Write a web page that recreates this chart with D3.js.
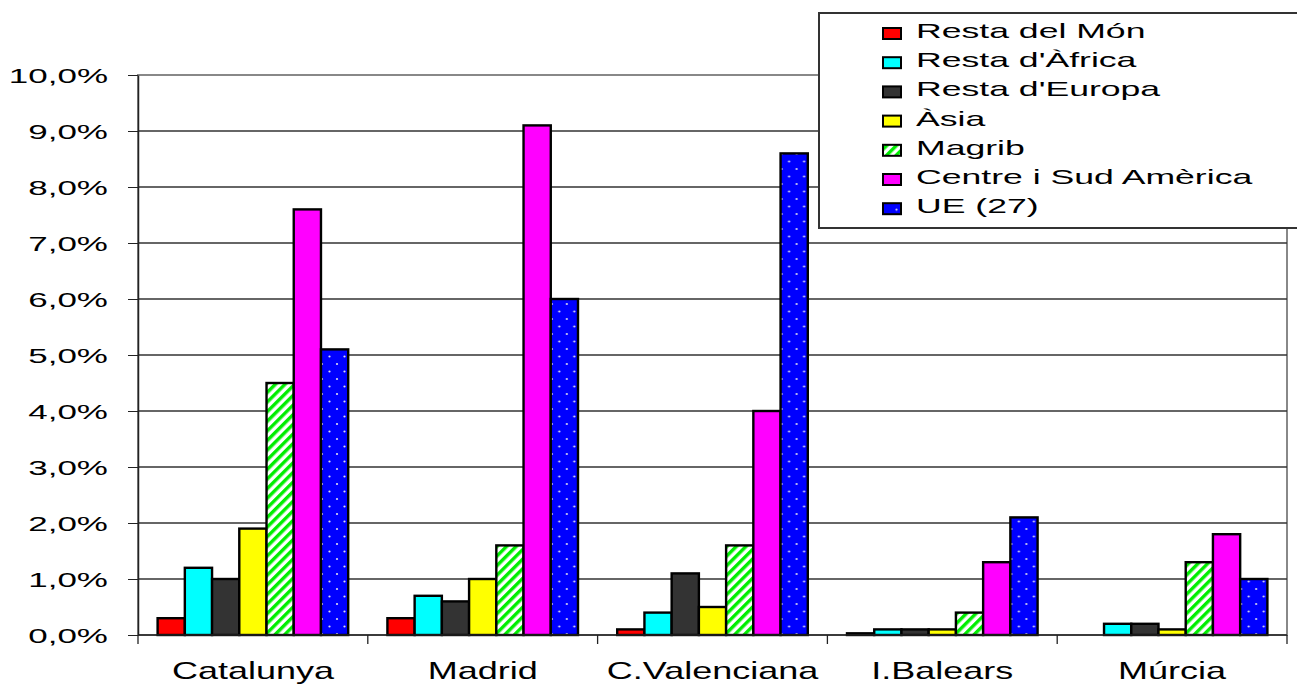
<!DOCTYPE html>
<html>
<head>
<meta charset="utf-8">
<script src="https://cdn.jsdelivr.net/npm/d3@7"></script>
<style>
  body { margin: 0; background: #fff; }
  text { font-family: "Liberation Sans", Arial, sans-serif; fill: #000; }
</style>
</head>
<body>
<svg id="chart"></svg>
<script>
// Chart data
const regions = ["Catalunya", "Madrid", "C.Valenciana", "I.Balears", "Múrcia"];
const seriesNames = ["Resta del Món", "Resta d'Àfrica", "Resta d'Europa", "Àsia", "Magrib", "Centre i Sud Amèrica", "UE (27)"];
const restaMon    = [0.3, 0.3, 0.1, 0.03, 0];
const restaAfrica = [1.2, 0.7, 0.4, 0.1, 0.2];
const restaEuropa = [1.0, 0.6, 1.1, 0.1, 0.2];
const asia        = [1.9, 1.0, 0.5, 0.1, 0.1];
const magrib      = [4.5, 1.6, 1.6, 0.4, 1.3];
const centreSud   = [7.6, 9.1, 4.0, 1.3, 1.8];
const ue27        = [5.1, 6.0, 8.6, 2.1, 1.0];
const yTicks = [0, 1, 2, 3, 4, 5, 6, 7, 8, 9, 10];

const seriesValues = [restaMon, restaAfrica, restaEuropa, asia, magrib, centreSud, ue27];
const fills = ["#ff0000", "#00ffff", "#333333", "#ffff00", "url(#stripes)", "#ff00ff", "url(#dots)"];

const width = 1297;
const height = 684;
const plotLeft = 138, plotRight = 1287, plotTop = 75, plotBottom = 635;

const svg = d3.select("#chart")
    .attr("width", width)
    .attr("height", height);

// Patterns for Magrib and UE
const defs = svg.append("defs");
const stripes = defs.append("pattern")
    .attr("id", "stripes")
    .attr("patternUnits", "userSpaceOnUse")
    .attr("width", 6.8).attr("height", 6.8)
    .attr("patternTransform", "rotate(45)");
stripes.append("rect").attr("width", 6.8).attr("height", 6.8).attr("fill", "#fff");
stripes.append("rect").attr("width", 3.4).attr("height", 6.8).attr("fill", "#00ee00");

const dots = defs.append("pattern")
    .attr("id", "dots")
    .attr("patternUnits", "userSpaceOnUse")
    .attr("width", 15).attr("height", 15);
dots.append("rect").attr("width", 15).attr("height", 15).attr("fill", "#0000ff");
dots.append("circle").attr("cx", 4).attr("cy", 4).attr("r", 1.1).attr("fill", "#dde");
dots.append("circle").attr("cx", 11.5).attr("cy", 11.5).attr("r", 1.1).attr("fill", "#dde");

// Scales
const x0 = d3.scaleBand().domain(regions).range([plotLeft, plotRight]).padding(0);
const x1 = d3.scaleBand().domain(seriesNames).range([0, x0.bandwidth()]).paddingInner(0).paddingOuter(0.72);
const y = d3.scaleLinear().domain([0, 10]).range([plotBottom, plotTop]);

// Plot border (grey)
svg.append("rect")
    .attr("x", plotLeft).attr("y", plotTop)
    .attr("width", plotRight - plotLeft).attr("height", plotBottom - plotTop)
    .attr("fill", "none").attr("stroke", "#888").attr("stroke-width", 2);

// Gridlines
svg.append("g")
    .selectAll("line")
    .data(yTicks.filter(d => d > 0 && d < 10))
    .enter().append("line")
    .attr("x1", plotLeft).attr("x2", plotRight)
    .attr("y1", d => y(d)).attr("y2", d => y(d))
    .attr("stroke", "#333").attr("stroke-width", 1.3);

// Y axis
const yAxis = svg.append("g")
    .attr("transform", `translate(${plotLeft},0)`)
    .call(d3.axisLeft(y).tickValues(yTicks).tickSize(10).tickSizeOuter(0)
        .tickFormat(d => d.toFixed(1).replace(".", ",") + "%"));
yAxis.select(".domain").attr("stroke", "#222").attr("stroke-width", 1.5);
yAxis.selectAll(".tick line").attr("stroke", "#222");
yAxis.selectAll(".tick text")
    .attr("x", null).attr("dy", "0.36em")
    .attr("transform", "translate(-30,0) scale(1.75,1)")
    .style("font-size", "20px");

// Bars
const groups = svg.append("g")
    .selectAll("g")
    .data(regions)
    .enter().append("g")
    .attr("transform", d => `translate(${x0(d)},0)`);

groups.selectAll("rect")
    .data((r, i) => seriesNames.map((s, j) => ({ s, j, v: seriesValues[j][i] })).filter(d => d.v > 0))
    .enter().append("rect")
    .attr("x", d => x1(d.s))
    .attr("y", d => y(d.v))
    .attr("width", x1.bandwidth())
    .attr("height", d => y(0) - y(d.v))
    .attr("fill", d => fills[d.j])
    .attr("stroke", "#000")
    .attr("stroke-width", 2.4);

// X axis line and ticks
svg.append("line")
    .attr("x1", plotLeft).attr("x2", plotRight)
    .attr("y1", plotBottom).attr("y2", plotBottom)
    .attr("stroke", "#222").attr("stroke-width", 1.5);
svg.append("g")
    .selectAll("line")
    .data(regions.map(r => x0(r)).concat([plotRight]))
    .enter().append("line")
    .attr("x1", d => d).attr("x2", d => d)
    .attr("y1", plotBottom).attr("y2", plotBottom + 9)
    .attr("stroke", "#222").attr("stroke-width", 1.3);

svg.append("g")
    .selectAll("text")
    .data(regions)
    .enter().append("text")
    .attr("transform", d => `translate(${x0(d) + x0.bandwidth() / 2},679) scale(1.5,1)`)
    .attr("text-anchor", "middle")
    .style("font-size", "24px")
    .text(d => d);

// Legend
const legend = svg.append("g");
legend.append("rect")
    .attr("x", 819).attr("y", 13)
    .attr("width", 490).attr("height", 215)
    .attr("fill", "#fff").attr("stroke", "#333").attr("stroke-width", 2);

const items = legend.selectAll("g.item")
    .data(seriesNames)
    .enter().append("g")
    .attr("class", "item")
    .attr("transform", (d, i) => `translate(0,${38 + i * 29.2})`);

items.append("rect")
    .attr("x", 883).attr("y", -10)
    .attr("width", 18).attr("height", 11)
    .attr("fill", (d, i) => fills[i])
    .attr("stroke", "#000").attr("stroke-width", 2);

items.append("text")
    .attr("transform", "translate(916,0) scale(1.78,1)")
    .style("font-size", "20px")
    .text(d => d);
</script>
</body>
</html>
